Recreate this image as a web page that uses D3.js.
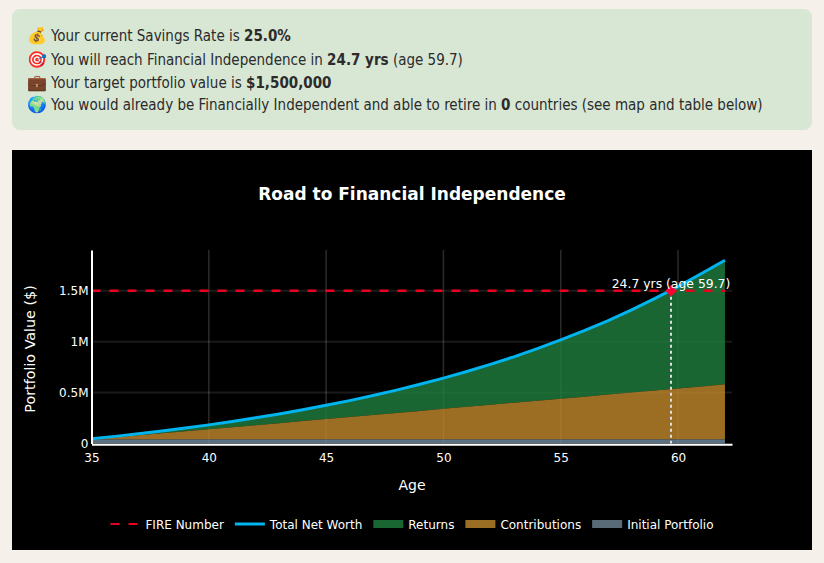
<!DOCTYPE html>
<html>
<head>
<meta charset="utf-8">
<title>Road to Financial Independence</title>
<script src="https://cdnjs.cloudflare.com/ajax/libs/d3/7.8.5/d3.min.js"></script>
<style>
html, body { margin: 0; padding: 0; background: #f5f0ea; width: 824px; height: 563px; overflow: hidden; }
body { font-family: "DejaVu Sans", sans-serif; position: relative; }
#summary {
    position: absolute; left: 12px; top: 9px; width: 800px; height: 121px;
    background: #d8e6d4; border-radius: 8px; color: #2b2b2b;
}
#summary div {
    position: absolute; left: 15px; font-size: 15px; white-space: nowrap;
    font-family: "DejaVu Sans Condensed", "DejaVu Sans", sans-serif; font-stretch: condensed;
}
#summary span { display: inline-block; width: 24px; font-size: 16px; }
#chart { position: absolute; left: 12px; top: 150px; }
</style>
</head>
<body>
<div id="summary"></div>
<svg id="chart" width="800" height="400"></svg>
<script>
// Values (thousands of dollars per year of age)
var ages = [35, 36, 37, 38, 39, 40, 41, 42, 43, 44, 45, 46, 47, 48, 49, 50, 51, 52, 53, 54, 55, 56, 57, 58, 59, 60, 61, 62];
var netWorth = [46, 70, 96, 123, 152, 183, 216, 252, 290, 331, 375, 421, 471, 524, 581, 642, 707, 777, 851, 931, 1017, 1108, 1205, 1310, 1422, 1541, 1669, 1800];
var contributed = [40, 60, 80, 100, 120, 140, 160, 180, 200, 220, 240, 260, 280, 300, 320, 340, 360, 380, 400, 420, 440, 460, 480, 500, 520, 540, 560, 582];
var initialPortfolio = [40, 40, 40, 40, 40, 40, 40, 40, 40, 40, 40, 40, 40, 40, 40, 40, 40, 40, 40, 40, 40, 40, 40, 40, 40, 40, 40, 40];
var fireNumber = 1500;
var fireAge = 59.7;
var fireYears = 24.7;
var xTicks = [35, 40, 45, 50, 55, 60];
var yTicks = [0, 500, 1000, 1500];
var yTickLabels = ["0", "0.5M", "1M", "1.5M"];
var legendNames = ["FIRE Number", "Total Net Worth", "Returns", "Contributions", "Initial Portfolio"];
var summaryIcons = ["\uD83D\uDCB0", "\uD83C\uDFAF", "\uD83D\uDCBC", "\uD83C\uDF0D"];
var summaryLines = [
    "Your current Savings Rate is <b>25.0%</b>",
    "You will reach Financial Independence in <b>24.7 yrs</b> (age 59.7)",
    "Your target portfolio value is <b>$1,500,000</b>",
    "You would already be Financially Independent and able to retire in <b>0</b> countries (see map and table below)"
];

var lineTops = [17, 41, 64, 86];
d3.select("#summary").selectAll("div")
    .data(summaryLines)
    .enter().append("div")
    .style("top", function (d, i) { return lineTops[i] + "px"; })
    .html(function (d, i) { return "<span>" + summaryIcons[i] + "</span>" + d; });

var svg = d3.select("#chart");
svg.append("rect").attr("width", 800).attr("height", 400).attr("fill", "#000");

// plot area, in svg coordinates
var x = d3.scaleLinear().domain([35, 62.3]).range([79.5, 720]);
var y = d3.scaleLinear().domain([0, 1900]).range([293.5, 100]);

var g = svg.append("g");

// gridlines
g.selectAll(".vgrid").data(xTicks.slice(1)).enter().append("line")
    .attr("x1", function (d) { return x(d); }).attr("x2", function (d) { return x(d); })
    .attr("y1", y(1900)).attr("y2", y(0))
    .attr("stroke", "rgba(255,255,255,0.17)")
    .attr("stroke-width", 1.5);
g.selectAll(".hgrid").data(yTicks.slice(1)).enter().append("line")
    .attr("x1", x(35)).attr("x2", x(62.3))
    .attr("y1", function (d) { return y(d); }).attr("y2", function (d) { return y(d); })
    .attr("stroke", "rgba(255,255,255,0.1)")
    .attr("stroke-width", 2);

function band(top, bottom, color) {
    var area = d3.area()
        .x(function (d) { return x(d); })
        .y0(function (d, i) { return y(bottom ? bottom[i] : 0); })
        .y1(function (d, i) { return y(top[i]); });
    g.append("path").datum(ages)
        .attr("d", area)
        .attr("fill", color)
        .attr("fill-opacity", 0.8);
}
band(netWorth, contributed, "#20803e");
band(contributed, initialPortfolio, "#c28a2c");
band(initialPortfolio, null, "#738fa3");

// FIRE target
g.append("line")
    .attr("x1", x(35)).attr("x2", x(62))
    .attr("y1", y(fireNumber)).attr("y2", y(fireNumber))
    .attr("stroke", "#e8001f").attr("stroke-width", 2.5)
    .attr("stroke-dasharray", "9,9");

// net worth line
var line = d3.line()
    .x(function (d) { return x(d); })
    .y(function (d, i) { return y(netWorth[i]); });
g.append("path").datum(ages)
    .attr("d", line)
    .attr("fill", "none")
    .attr("stroke", "#00b4f0")
    .attr("stroke-width", 3);

// marker where FIRE is reached
g.append("line")
    .attr("x1", x(fireAge)).attr("x2", x(fireAge))
    .attr("y1", y(fireNumber)).attr("y2", y(0))
    .attr("stroke", "#ddd").attr("stroke-width", 2)
    .attr("stroke-dasharray", "3,3");
g.append("path")
    .attr("d", d3.symbol(d3.symbolSquare, 64))
    .attr("transform", "translate(" + x(fireAge) + "," + y(fireNumber) + ") rotate(45)")
    .attr("fill", "#ff0033");
g.append("text")
    .attr("x", x(fireAge)).attr("y", y(fireNumber) - 3)
    .attr("text-anchor", "middle")
    .attr("fill", "#fff")
    .attr("font-size", 12.4)
    .text(fireYears + " yrs (age " + fireAge + ")");

// axes
var xAxis = d3.axisBottom(x).tickValues(xTicks).tickSize(0).tickPadding(9);
var yAxis = d3.axisLeft(y).tickValues(yTicks).tickSize(0).tickPadding(3)
    .tickFormat(function (d, i) { return yTickLabels[i]; });

var xg = svg.append("g").attr("transform", "translate(0," + (y(0) + 0.7) + ")").call(xAxis);
var yg = svg.append("g").attr("transform", "translate(" + x(35) + ",0)").call(yAxis);
[xg, yg].forEach(function (a) {
    a.selectAll("text").attr("fill", "#fff").attr("font-size", 12).attr("font-family", "DejaVu Sans");
    a.select(".domain").attr("stroke", "#fff").attr("stroke-width", 2);
});

// titles
svg.append("text").attr("x", 400).attr("y", 50)
    .attr("text-anchor", "middle").attr("fill", "#fff")
    .attr("font-size", 17).attr("font-weight", "bold")
    .text("Road to Financial Independence");
svg.append("text").attr("x", 400).attr("y", 340)
    .attr("text-anchor", "middle").attr("fill", "#fff")
    .attr("font-size", 14)
    .text("Age");
svg.append("text")
    .attr("transform", "translate(23,199) rotate(-90)")
    .attr("text-anchor", "middle").attr("fill", "#fff")
    .attr("font-size", 14.3)
    .text("Portfolio Value ($)");

// legend, laid out from the measured text widths then centred
var legendColors = ["#e8001f", "#00b4f0", "#1a6632", "#9a6f24", "#5a6b78"];
var legend = svg.append("g").attr("font-size", 12).attr("fill", "#fff");
var cursor = 0;
legendNames.forEach(function (name, i) {
    var item = legend.append("g").attr("transform", "translate(" + cursor + ",0)");
    if (i < 2) {
        item.append("line").attr("x1", 0).attr("x2", 30)
            .attr("stroke", legendColors[i])
            .attr("stroke-width", i == 0 ? 2 : 3)
            .attr("stroke-dasharray", i == 0 ? "9,9" : null);
    } else {
        item.append("rect").attr("x", 0).attr("y", -4).attr("width", 30).attr("height", 8)
            .attr("fill", legendColors[i]);
    }
    var label = item.append("text").attr("x", 35).attr("y", 4.5).text(name);
    cursor += 35 + label.node().getComputedTextLength() + 11;
});
legend.attr("transform", "translate(" + (400 - (cursor - 11) / 2) + ",374)");
</script>
</body>
</html>
